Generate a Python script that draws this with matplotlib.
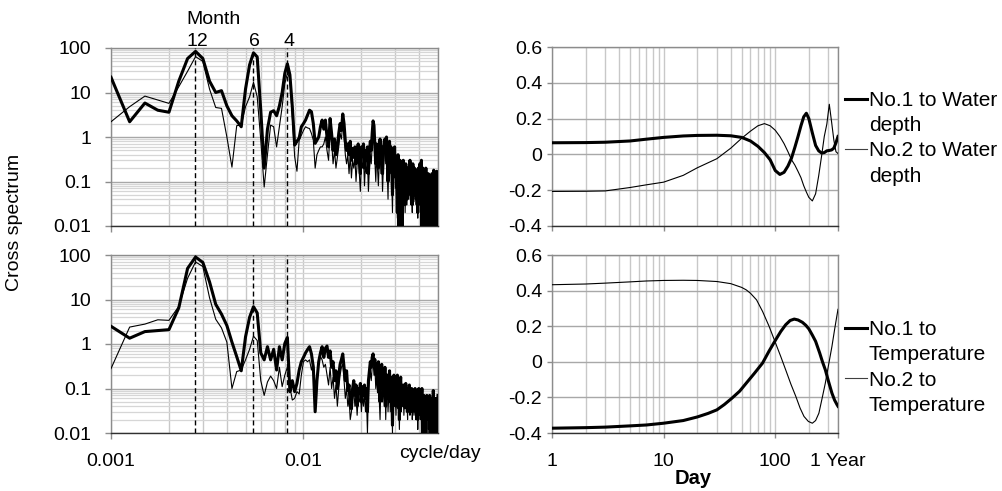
import numpy as np
import matplotlib
matplotlib.use('Agg')
import matplotlib.pyplot as plt
from matplotlib.lines import Line2D
from matplotlib.ticker import LogLocator, NullFormatter, FixedLocator

plt.rcParams['font.family'] = ['Liberation Sans', 'DejaVu Sans']

# ---------------- data ----------------
# frequency index k (cycles per RECORD_DAYS days), k = 4 .. 200
RECORD_DAYS = 4000
K_INDEX = np.arange(4, 201)

# top-left: cross spectrum, No.1 / No.2 vs water depth
spec_wd_no1 = (
    [22, 2.2, 5.8, 4.0, 3.6, 18, 58, 84, 58, 18] +
    [10, 11, 5, 3.0, 2.3, 1.7, 12, 42, 78, 63] +
    [4, 0.2, 1.5, 3.6, 3.9, 3.0, 5, 10, 27, 44] +
    [25, 4.8, 0.66, 0.8, 0.95, 1.7, 2.0, 2.4, 3.1, 4.0] +
    [3.7, 2.0, 0.72, 0.85, 1.0, 1.7, 2.4] +
    [1.5, 2.4, 1.0, 0.6, 2.6, 1.2, 0.5, 0.9, 0.4, 0.6] +
    [1.2, 2.0, 1.4, 3.3, 2.0, 0.8, 0.5, 0.7, 0.4, 0.8] +
    [0.3, 0.55, 0.35, 0.6, 0.25, 0.5, 0.7, 0.3, 0.15, 0.6] +
    [0.4, 0.7, 0.2, 0.5, 0.3, 0.6, 0.15, 0.45, 0.8, 0.5] +
    [1.2, 2.3, 1.8, 0.6, 0.25, 0.7, 0.4, 0.2, 0.5, 0.9] +
    [0.3, 0.6, 0.15, 0.4, 0.8, 0.9, 0.5, 1.0, 0.3, 0.1] +
    [0.5, 0.8, 0.3, 0.6, 0.2, 0.05, 0.4, 0.25, 0.6, 0.15] +
    [0.3, 0.1, 0.02, 0.4, 0.008, 0.2, 0.3, 0.06, 0.25, 0.007] +
    [0.15, 0.3, 0.08, 0.2, 0.03, 0.25, 0.1, 0.04, 0.2, 0.12] +
    [0.06, 0.18, 0.3, 0.05, 0.2, 0.1, 0.03, 0.25, 0.12, 0.05] +
    [0.2, 0.08, 0.15, 0.04, 0.18, 0.1, 0.02, 0.2, 0.12, 0.06] +
    [0.25, 0.1, 0.03, 0.3, 0.006, 0.15, 0.2, 0.05, 0.008, 0.15] +
    [0.1, 0.04, 0.2, 0.008, 0.12, 0.06, 0.007, 0.15, 0.1, 0.03] +
    [0.008, 0.12, 0.05, 0.1, 0.02, 0.15, 0.06, 0.009, 0.1, 0.18] +
    [0.03, 0.08, 0.15, 0.006, 0.1, 0.04, 0.17, 0.007, 0.09, 0.08]
)
spec_wd_no2 = (
    [2.2, 4.8, 8.3, 6.8, 5.7, 13.5, 30, 64, 50, 12] +
    [4.6, 4.4, 1.0, 0.21, 1.8, 1.85, 4.8, 8, 17, 8] +
    [0.85, 0.075, 0.4, 1.85, 1.7, 0.6, 1.7, 4.8, 16, 27] +
    [21, 2.9, 0.36, 0.17, 0.85, 1.1, 1.4, 1.7, 1.6, 1.55] +
    [1.2, 0.85, 0.2, 0.4, 0.5, 0.6, 0.6] +
    [0.7, 1.0, 0.5, 0.3, 1.5, 0.8, 0.25, 0.5, 0.2, 0.35] +
    [0.6, 1.2, 0.9, 2.0, 1.0, 0.4, 0.25, 0.4, 0.15, 0.4] +
    [0.12, 0.3, 0.2, 0.35, 0.1, 0.25, 0.4, 0.15, 0.06, 0.3] +
    [0.2, 0.35, 0.08, 0.25, 0.15, 0.3, 0.06, 0.2, 0.4, 0.25] +
    [0.7, 1.8, 1.2, 0.3, 0.1, 0.35, 0.2, 0.08, 0.25, 0.5] +
    [0.15, 0.3, 0.06, 0.2, 0.45, 0.6, 0.25, 0.7, 0.15, 0.04] +
    [0.3, 0.5, 0.15, 0.35, 0.1, 0.02, 0.2, 0.12, 0.35, 0.07] +
    [0.2, 0.06, 0.015, 0.3, 0.01, 0.12, 0.2, 0.04, 0.15, 0.009] +
    [0.1, 0.2, 0.05, 0.12, 0.02, 0.18, 0.07, 0.03, 0.15, 0.08] +
    [0.04, 0.12, 0.2, 0.03, 0.15, 0.07, 0.02, 0.18, 0.08, 0.035] +
    [0.15, 0.05, 0.1, 0.03, 0.12, 0.07, 0.015, 0.15, 0.08, 0.04] +
    [0.18, 0.07, 0.02, 0.2, 0.009, 0.1, 0.14, 0.035, 0.01, 0.1] +
    [0.07, 0.03, 0.14, 0.01, 0.08, 0.04, 0.009, 0.1, 0.07, 0.02] +
    [0.01, 0.08, 0.035, 0.07, 0.015, 0.1, 0.04, 0.01, 0.07, 0.12] +
    [0.02, 0.05, 0.1, 0.008, 0.07, 0.03, 0.12, 0.009, 0.06, 0.05]
)

# bottom-left: cross spectrum, No.1 / No.2 vs temperature
spec_tp_no1 = (
    [2.5, 1.35, 1.9, 2.0, 2.1, 6.5, 50, 90, 68, 25] +
    [7.8, 4.7, 2.6, 1.1, 0.52, 0.25, 1.45, 4, 6.9, 5] +
    [0.63, 0.44, 0.87, 0.44, 0.76, 0.26, 0.87, 0.44, 1.03, 1.4] +
    [0.085, 0.15, 0.085, 0.13, 0.26, 0.4, 0.5, 0.63, 0.75, 0.87] +
    [0.6, 0.3, 0.03, 0.15, 0.4, 0.63, 0.87] +
    [0.5, 0.8, 0.9, 0.5, 0.7, 0.3, 0.4, 0.15, 0.25, 0.1] +
    [0.2, 0.35, 0.45, 0.6, 0.3, 0.15, 0.25, 0.09, 0.12, 0.04] +
    [0.035, 0.1, 0.15, 0.07, 0.12, 0.04, 0.1, 0.08, 0.13, 0.05] +
    [0.11, 0.07, 0.12, 0.06, 0.1, 0.03, 0.15, 0.25, 0.4, 0.3] +
    [0.5, 0.6, 0.35, 0.45, 0.2, 0.35, 0.15, 0.4, 0.12, 0.05] +
    [0.2, 0.35, 0.1, 0.25, 0.08, 0.3, 0.04, 0.15, 0.2, 0.06] +
    [0.12, 0.25, 0.05, 0.18, 0.1, 0.015, 0.15, 0.2, 0.07, 0.12] +
    [0.04, 0.15, 0.2, 0.06, 0.1, 0.02, 0.12, 0.18, 0.05, 0.1] +
    [0.07, 0.12, 0.04, 0.1, 0.06, 0.13, 0.05, 0.09, 0.03, 0.1] +
    [0.06, 0.12, 0.04, 0.08, 0.05, 0.1, 0.03, 0.07, 0.09, 0.04] +
    [0.06, 0.1, 0.03, 0.08, 0.05, 0.09, 0.02, 0.07, 0.1, 0.04] +
    [0.06, 0.03, 0.08, 0.05, 0.1, 0.008, 0.06, 0.04, 0.07, 0.05] +
    [0.03, 0.06, 0.009, 0.05, 0.07, 0.04, 0.06, 0.02, 0.05, 0.04] +
    [0.07, 0.006, 0.05, 0.04, 0.06, 0.03, 0.05, 0.008, 0.09, 0.04] +
    [0.06, 0.02, 0.05, 0.007, 0.04, 0.06, 0.005, 0.05, 0.03, 0.07]
)
spec_tp_no2 = (
    [0.28, 2.4, 2.8, 3.5, 3.4, 7, 30, 70, 55, 11] +
    [3.6, 2.3, 1.1, 0.1, 0.24, 0.26, 0.44, 0.76, 1.5, 1.2] +
    [0.15, 0.07, 0.14, 0.19, 0.15, 0.1, 0.3, 0.11, 0.2, 0.3] +
    [0.11, 0.055, 0.06, 0.085, 0.075, 0.2, 0.4, 0.44, 0.4, 0.44] +
    [0.26, 0.4, 0.085, 0.14, 0.44, 0.52, 0.44] +
    [0.3, 0.35, 0.2, 0.12, 0.3, 0.1, 0.18, 0.06, 0.12, 0.04] +
    [0.1, 0.2, 0.3, 0.35, 0.15, 0.06, 0.1, 0.04, 0.06, 0.02] +
    [0.03, 0.06, 0.09, 0.04, 0.07, 0.025, 0.06, 0.05, 0.08, 0.03] +
    [0.07, 0.04, 0.08, 0.03, 0.06, 0.01, 0.09, 0.15, 0.25, 0.15] +
    [0.3, 0.4, 0.2, 0.3, 0.1, 0.2, 0.08, 0.25, 0.06, 0.02] +
    [0.12, 0.2, 0.05, 0.15, 0.04, 0.18, 0.02, 0.09, 0.12, 0.03] +
    [0.07, 0.15, 0.03, 0.1, 0.06, 0.01, 0.09, 0.12, 0.04, 0.07] +
    [0.025, 0.09, 0.12, 0.035, 0.06, 0.012, 0.07, 0.1, 0.03, 0.06] +
    [0.04, 0.07, 0.025, 0.06, 0.035, 0.08, 0.03, 0.05, 0.02, 0.06] +
    [0.035, 0.07, 0.025, 0.05, 0.03, 0.06, 0.02, 0.04, 0.055, 0.025] +
    [0.04, 0.06, 0.02, 0.05, 0.03, 0.055, 0.012, 0.04, 0.06, 0.025] +
    [0.04, 0.02, 0.05, 0.03, 0.06, 0.006, 0.04, 0.025, 0.045, 0.03] +
    [0.02, 0.04, 0.007, 0.03, 0.045, 0.025, 0.04, 0.012, 0.03, 0.025] +
    [0.045, 0.005, 0.03, 0.025, 0.04, 0.02, 0.03, 0.006, 0.06, 0.025] +
    [0.04, 0.012, 0.03, 0.005, 0.025, 0.04, 0.004, 0.03, 0.02, 0.05]
)

MONTHS = [12, 6, 4]
MONTH_LABELS = ['12', '6', '4']
SPEC_YTICKS = [0.01, 0.1, 1, 10, 100]
SPEC_YTICKLABELS = ['0.01', '0.1', '1', '10', '100']
FREQ_XTICKS = [0.001, 0.01]
FREQ_XTICKLABELS = ['0.001', '0.01']

# top-right: lagged correlation vs water depth
days_wd1 = [1, 2, 3, 5, 7, 10, 15, 20, 30, 40, 50, 60, 70, 80, 90, 100, 110, 120,
            130, 140, 150, 160, 170, 180, 190, 200, 215, 230, 245, 260, 275, 290,
            305, 320, 335, 350, 365]
corr_wd_no1 = [0.065, 0.066, 0.068, 0.075, 0.085, 0.095, 0.103, 0.106, 0.107, 0.104,
               0.095, 0.075, 0.045, 0.01, -0.03, -0.09, -0.112, -0.10, -0.065, -0.02,
               0.04, 0.10, 0.16, 0.21, 0.23, 0.2, 0.12, 0.05, 0.02, 0.008, 0.01,
               0.02, 0.022, 0.025, 0.035, 0.065, 0.1]
days_wd2 = [1, 2, 3, 5, 7, 10, 15, 20, 30, 40, 50, 60, 70, 80, 90, 100, 110, 120,
            130, 140, 150, 160, 170, 180, 190, 200, 215, 230, 245, 260, 275, 290,
            305, 320, 335, 350, 365]
corr_wd_no2 = [-0.207, -0.206, -0.204, -0.185, -0.17, -0.155, -0.117, -0.075, -0.024,
               0.035, 0.09, 0.13, 0.16, 0.172, 0.16, 0.135, 0.1, 0.06, 0.015, -0.03,
               -0.06, -0.095, -0.13, -0.175, -0.21, -0.24, -0.26, -0.22, -0.12, -0.01,
               0.1, 0.17, 0.28, 0.18, 0.08, 0.015, 0.005]

# bottom-right: lagged correlation vs temperature
days_tp1 = [1, 2, 3, 5, 7, 10, 15, 20, 25, 30, 35, 41, 48, 55, 65, 77, 88, 101, 112,
            124, 136, 148, 160, 175, 188, 200, 215, 230, 250, 265, 281, 300, 322, 340,
            357, 365]
corr_tp_no1 = [-0.373, -0.37, -0.367, -0.36, -0.355, -0.345, -0.33, -0.31, -0.29, -0.27,
               -0.24, -0.204, -0.165, -0.12, -0.065, -0.007, 0.06, 0.124, 0.17, 0.208,
               0.232, 0.24, 0.235, 0.222, 0.205, 0.185, 0.15, 0.115, 0.05, 0.0, -0.045,
               -0.11, -0.176, -0.215, -0.24, -0.25]
days_tp2 = [1, 2, 3, 5, 7, 10, 15, 20, 30, 40, 50, 55, 60, 68, 77, 88, 100, 112, 124,
            138, 153, 167, 181, 198, 215, 230, 246, 262, 281, 300, 322, 340, 357, 365]
corr_tp_no2 = [0.433, 0.437, 0.442, 0.449, 0.454, 0.457, 0.458, 0.457, 0.451, 0.439,
               0.418, 0.404, 0.385, 0.348, 0.283, 0.2, 0.11, 0.03, -0.045, -0.125,
               -0.195, -0.26, -0.307, -0.335, -0.345, -0.33, -0.289, -0.21, -0.12,
               -0.02, 0.086, 0.18, 0.26, 0.295]

CORR_YTICKS = [-0.4, -0.2, 0, 0.2, 0.4, 0.6]
CORR_YTICKLABELS = ['-0.4', '-0.2', '0', '0.2', '0.4', '0.6']
DAY_XTICKS = [1, 10, 100, 365]
DAY_XTICKLABELS = ['1', '10', '100', '1 Year']

LEG_WD = ['No.1 to Water', 'depth', 'No.2 to Water', 'depth']
LEG_TP = ['No.1 to', 'Temperature', 'No.2 to', 'Temperature']

# ---------------- figure ----------------
W, H = 1003, 491
fig = plt.figure(figsize=(W / 100, H / 100), dpi=100)


def rect(l, t, r, b):
    return [l / W, 1 - b / H, (r - l) / W, (b - t) / H]


ax_tl = fig.add_axes(rect(111, 48, 438, 226))
ax_bl = fig.add_axes(rect(111, 255, 438, 433))
ax_tr = fig.add_axes(rect(552, 47, 838, 226))
ax_br = fig.add_axes(rect(552, 255, 838, 433))

TICK_FS = 14
THICK = 2.2
THIN = 0.8
GRID_V = '#c8c8c8'
GRID_MAJ = '#a8a8a8'
GRID_MIN = '#d6d6d6'
SPINE = '#8c8c8c'

freq = K_INDEX / RECORD_DAYS
month_freq = [1.0 / (365.0 / 12.0 * m) for m in MONTHS]


def style_common(ax):
    for side in ['left', 'top', 'right']:
        ax.spines[side].set_color(SPINE)
        ax.spines[side].set_linewidth(1.0)
    ax.spines['bottom'].set_color('#303030')
    ax.spines['bottom'].set_linewidth(1.0)
    ax.set_axisbelow(True)


def style_spec(ax, xlabels):
    ax.set_xscale('log')
    ax.set_yscale('log')
    ax.set_xlim(0.001, 0.05)
    ax.set_ylim(0.01, 100)
    ax.yaxis.set_major_locator(FixedLocator(SPEC_YTICKS))
    ax.set_yticklabels(SPEC_YTICKLABELS)
    ax.yaxis.set_minor_locator(LogLocator(base=10, subs=range(2, 10)))
    ax.yaxis.set_minor_formatter(NullFormatter())
    ax.xaxis.set_major_locator(FixedLocator(FREQ_XTICKS))
    if xlabels:
        ax.set_xticklabels(FREQ_XTICKLABELS)
    else:
        ax.set_xticklabels([])
    ax.xaxis.set_minor_locator(LogLocator(base=10, subs=range(2, 10)))
    ax.xaxis.set_minor_formatter(NullFormatter())
    ax.tick_params(which='minor', length=0)
    ax.tick_params(axis='y', which='major', length=4.3, width=1, color=SPINE,
                   pad=10, labelsize=TICK_FS)
    ax.tick_params(axis='x', which='major', length=4.3, width=1, color=SPINE,
                   pad=10, labelsize=TICK_FS)
    ax.xaxis.grid(True, which='both', color=GRID_V, lw=1.0)
    ax.yaxis.grid(True, which='major', color=GRID_MAJ, lw=1.0)
    ax.yaxis.grid(True, which='minor', color=GRID_MIN, lw=0.9)
    style_common(ax)
    for mf in month_freq:
        ax.axvline(mf, color='black', lw=1.0, dashes=(3.6, 2.2), zorder=3)


def style_corr(ax, xlabels):
    ax.set_xscale('log')
    ax.set_xlim(1, 365)
    ax.set_ylim(-0.4, 0.6)
    ax.yaxis.set_major_locator(FixedLocator(CORR_YTICKS))
    ax.set_yticklabels(CORR_YTICKLABELS)
    ax.xaxis.set_major_locator(FixedLocator(DAY_XTICKS))
    if xlabels:
        ax.set_xticklabels(DAY_XTICKLABELS)
    else:
        ax.set_xticklabels([])
    ax.xaxis.set_minor_locator(LogLocator(base=10, subs=range(2, 10)))
    ax.xaxis.set_minor_formatter(NullFormatter())
    ax.tick_params(which='minor', length=0)
    ax.tick_params(axis='y', which='major', length=3.6, width=1, color=SPINE,
                   pad=3.6, labelsize=TICK_FS)
    ax.tick_params(axis='x', which='major', length=3.6, width=1, color=SPINE,
                   pad=10.5, labelsize=TICK_FS)
    ax.xaxis.grid(True, which='both', color=GRID_V, lw=1.0)
    ax.yaxis.grid(True, which='major', color=GRID_MAJ, lw=1.0)
    style_common(ax)


style_spec(ax_tl, False)
style_spec(ax_bl, True)
style_corr(ax_tr, False)
style_corr(ax_br, True)

# spectra
ax_tl.plot(freq, spec_wd_no2, color='black', lw=THIN, zorder=4)
ax_tl.plot(freq, spec_wd_no1, color='black', lw=THICK, zorder=5, solid_joinstyle='round')
ax_bl.plot(freq, spec_tp_no2, color='black', lw=THIN, zorder=4)
ax_bl.plot(freq, spec_tp_no1, color='black', lw=THICK, zorder=5, solid_joinstyle='round')

# month labels above top-left panel
for mf, lab in zip(month_freq, MONTH_LABELS):
    ax_tl.text(mf * 1.02, 1.034, lab, transform=ax_tl.get_xaxis_transform(),
               ha='center', va='center', fontsize=TICK_FS)
fig.text(213 / W, 1 - 19 / H, 'Month', ha='center', va='center', fontsize=TICK_FS)

fig.text(15 / W, 1 - 222 / H, 'Cross spectrum', rotation=90, ha='center', va='center',
         fontsize=TICK_FS)
fig.text(440 / W, 1 - 453 / H, 'cycle/day', ha='center', va='center', fontsize=TICK_FS)
fig.text(693 / W, 1 - 479 / H, 'Day', ha='center', va='center', fontsize=14.5,
         fontweight='bold')

# correlations
l1, = ax_tr.plot(days_wd1, corr_wd_no1, color='black', lw=THICK, zorder=5)
l2, = ax_tr.plot(days_wd2, corr_wd_no2, color='black', lw=THIN, zorder=4)
m1, = ax_br.plot(days_tp1, corr_tp_no1, color='black', lw=THICK, zorder=5)
m2, = ax_br.plot(days_tp2, corr_tp_no2, color='black', lw=THIN, zorder=4)

blank = Line2D([], [], color='none')


def add_legend(ax, h1, h2, labels, top_px):
    ax.legend([h1, blank, h2, blank], labels, loc='upper left',
              bbox_to_anchor=(845 / W, 1 - top_px / H), bbox_transform=fig.transFigure,
              frameon=False, borderpad=0, borderaxespad=0, handlelength=1.05,
              handletextpad=0.1, labelspacing=0.3, fontsize=15)


add_legend(ax_tr, Line2D([], [], color='black', lw=THICK),
           Line2D([], [], color='#404040', lw=THIN), LEG_WD, 91)
add_legend(ax_br, Line2D([], [], color='black', lw=THICK),
           Line2D([], [], color='#404040', lw=THIN), LEG_TP, 320)

fig.savefig('out.png', dpi=100)
